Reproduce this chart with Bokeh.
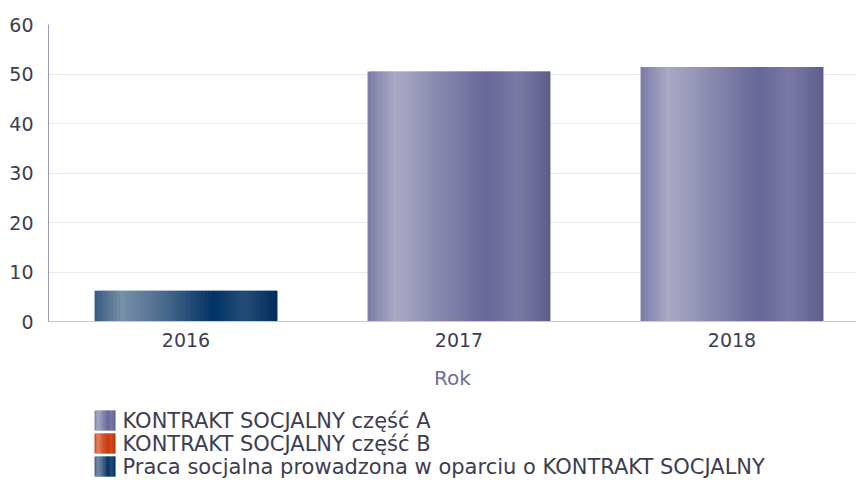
from bokeh.plotting import figure
from bokeh.layouts import column
from bokeh.models import Range1d, ColumnDataSource, FixedTicker
from bokeh.core.properties import value
from bokeh.embed import file_html
from bokeh.resources import INLINE

# ---- data ----
years = ["2016", "2017", "2018"]
series_names = ["KONTRAKT SOCJALNY część A",
                "KONTRAKT SOCJALNY część B",
                "Praca socjalna prowadzona w oparciu o KONTRAKT SOCJALNY"]
kontrakt_a = [0.0, 50.5, 51.4]
kontrakt_b = [0.0, 0.0, 0.0]
praca = [6.2, 0.0, 0.0]
y_ticks = [0, 10, 20, 30, 40, 50, 60]

# ---- style ----
FONT = "DejaVu Sans"
TEXT = "#3d3d52"
BAR_W = 0.67
N_STRIPS = 50
gradients = {
    "a": [(0.0, "#7b7ba6"), (0.15, "#aaaac6"), (0.38, "#8a8aae"), (0.65, "#67679a"),
          (0.82, "#7a7aa5"), (1.0, "#5d5d8a")],
    "b": [(0.0, "#c43c10"), (0.15, "#e08a6a"), (0.38, "#d25a30"), (0.65, "#c83c0a"),
          (0.82, "#d04a1c"), (1.0, "#b03408")],
    "p": [(0.0, "#355a80"), (0.15, "#7890a8"), (0.38, "#4a6a8c"), (0.65, "#003366"),
          (0.82, "#244e78"), (1.0, "#002a5a")],
}
series_keys = ["a", "b", "p"]


def hex2rgb(h):
    return tuple(int(h[i:i + 2], 16) for i in (1, 3, 5))


def grad_color(stops, t):
    for (t0, c0), (t1, c1) in zip(stops, stops[1:]):
        if t <= t1:
            f = (t - t0) / (t1 - t0) if t1 > t0 else 0
            a, b = hex2rgb(c0), hex2rgb(c1)
            return "#%02x%02x%02x" % tuple(round(a[i] + (b[i] - a[i]) * f) for i in range(3))
    return stops[-1][1]


def strips(x0, x1, b, t, key, n, store):
    w = (x1 - x0) / n
    for k in range(n):
        l = x0 + k * w
        store["left"].append(l)
        store["right"].append(min(l + w * 1.8, x1))
        store["bottom"].append(b)
        store["top"].append(t)
        store["color"].append(grad_color(gradients[key], (k + 0.5) / n))


# ---------------- main chart ----------------
p = figure(width=856, height=392, x_range=Range1d(-0.5037, 2.456), y_range=Range1d(0, 60),
           output_backend="svg", toolbar_location=None,
           min_border_left=48, min_border_right=0, min_border_top=24, min_border_bottom=70)
p.outline_line_color = None

bars = dict(left=[], right=[], bottom=[], top=[], color=[])
stack = [0.0] * len(years)
for key, vals in (("p", praca), ("a", kontrakt_a), ("b", kontrakt_b)):
    for i, v in enumerate(vals):
        if v <= 0:
            continue
        strips(i - BAR_W / 2, i + BAR_W / 2, stack[i], stack[i] + v, key, N_STRIPS, bars)
        stack[i] += v
p.quad(left="left", right="right", bottom="bottom", top="top", fill_color="color",
       line_color=None, source=ColumnDataSource(bars))

p.xaxis.ticker = FixedTicker(ticks=[0, 1, 2])
p.xaxis.major_label_overrides = {i: y for i, y in enumerate(years)}
p.xaxis.axis_label = "Rok"
p.xaxis.axis_label_text_font = FONT
p.xaxis.axis_label_text_font_style = "normal"
p.xaxis.axis_label_text_font_size = "20px"
p.xaxis.axis_label_text_color = "#6e6e94"
p.xaxis.axis_label_standoff = 16
p.xaxis.major_label_standoff = 5
p.xaxis.axis_line_color = "#c8c8d8"

p.yaxis.ticker = FixedTicker(ticks=y_ticks)
p.yaxis.axis_line_color = "#9a9ab8"
p.yaxis.major_label_standoff = 9

for ax in (p.xaxis, p.yaxis):
    ax.major_label_text_font = FONT
    ax.major_label_text_font_size = "19px"
    ax.major_label_text_color = TEXT
    ax.major_tick_line_color = None
    ax.minor_tick_line_color = None

p.xgrid.grid_line_color = None
p.ygrid.ticker = FixedTicker(ticks=y_ticks)
p.ygrid.grid_line_color = "#e8e8f0"

# ---------------- legend (below chart) ----------------
# the column aligns this frame with the chart frame (left 48 .. 856), so the
# x range is expressed in page pixels
LEG_H = 88
lg = figure(width=856, height=LEG_H, x_range=Range1d(48, 856), y_range=Range1d(LEG_H, 0),
            x_axis_type=None, y_axis_type=None,
            output_backend="svg", toolbar_location=None,
            min_border_left=48, min_border_right=0, min_border_top=0, min_border_bottom=0)
lg.grid.visible = False
lg.outline_line_color = None

sw = dict(left=[], right=[], bottom=[], top=[], color=[])
tx, ty = [], []
for row, key in enumerate(series_keys):
    y0 = 18 + row * 23
    strips(94, 115, y0, y0 + 20, key, 12, sw)
    tx.append(122)
    ty.append(y0 + 10.5)
lg.quad(left="left", right="right", bottom="bottom", top="top", fill_color="color",
        line_color=None, source=ColumnDataSource(sw))
lg.text(x=tx, y=ty, text=series_names, text_font=value(FONT), text_font_size="21px",
        text_color=TEXT, text_baseline="middle", text_align="left")

layout = column(p, lg, spacing=0)
open("out.html", "w").write(file_html(layout, INLINE))
